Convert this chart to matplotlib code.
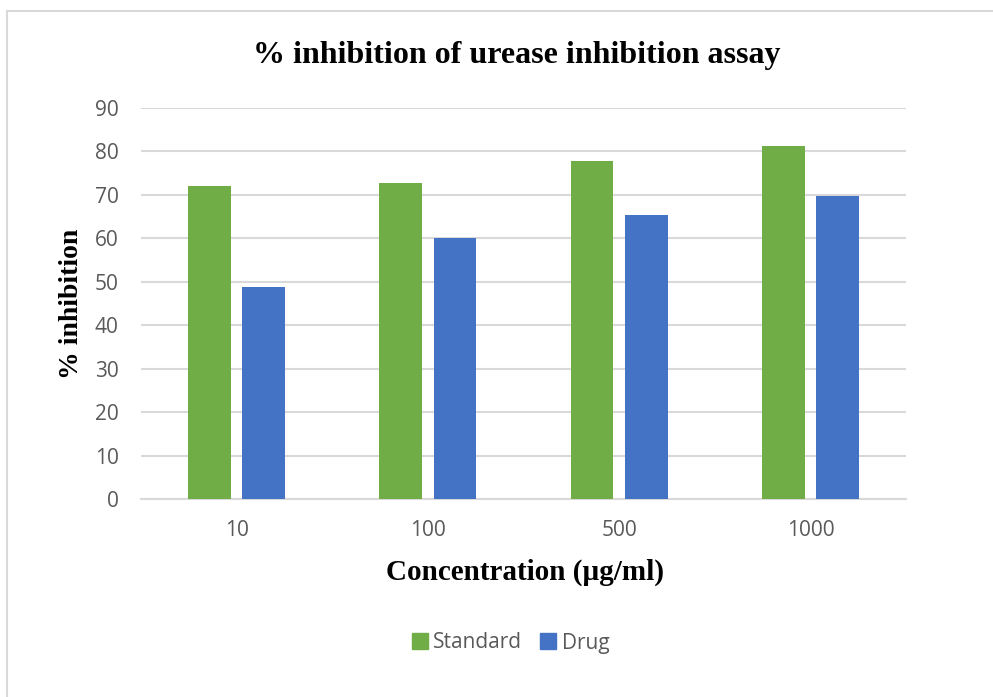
import matplotlib
matplotlib.use("Agg")
import matplotlib.pyplot as plt
import numpy as np
from matplotlib.lines import Line2D

concentrations = ["10", "100", "500", "1000"]
standard = [72.1, 72.7, 77.8, 81.2]
drug = [48.8, 60.0, 65.3, 69.7]
yticks = [0, 10, 20, 30, 40, 50, 60, 70, 80, 90]

green = "#70AD47"
blue = "#4472C4"
grid_c = "#D9D9D9"
tick_c = "#595959"

fig = plt.figure(figsize=(9.93, 6.97), dpi=100)
ax = fig.add_axes([141 / 993, 1 - 499 / 697, (906 - 141) / 993, (499 - 108) / 697])

x = np.arange(len(concentrations))
w = 0.224
off = 0.142
ax.bar(x - off, standard, width=w, color=green, zorder=3, label="Standard")
ax.bar(x + off, drug, width=w, color=blue, zorder=3, label="Drug")

ax.set_xlim(-0.5, len(concentrations) - 0.5)
ax.set_ylim(0, 90)
ax.set_yticks(yticks)
ax.set_xticks(x)
ax.set_xticklabels(concentrations)
ax.yaxis.grid(True, color=grid_c, linewidth=1.5, zorder=0)
ax.set_axisbelow(True)
for s in ["top", "right", "left"]:
    ax.spines[s].set_visible(False)
ax.spines["bottom"].set_color(grid_c)
ax.spines["bottom"].set_linewidth(1.5)
ax.tick_params(axis="both", length=0, colors=tick_c, labelsize=15)
ax.tick_params(axis="y", pad=16)
ax.tick_params(axis="x", pad=15)
for lbl in ax.get_xticklabels() + ax.get_yticklabels():
    lbl.set_fontfamily("Open Sans")

serif = "Liberation Serif"
fig.text(517 / 993, 1 - 55 / 697, "% inhibition of urease inhibition assay",
         ha="center", va="center", fontsize=23, fontweight="bold", family=serif)
fig.text(525 / 993, 1 - 572 / 697, "Concentration (µg/ml)",
         ha="center", va="center", fontsize=21, fontweight="bold", family=serif)
fig.text(72 / 993, 1 - 304 / 697, "% inhibition", rotation=90,
         ha="center", va="center", fontsize=20, fontweight="bold", family=serif)

handles = [Line2D([], [], marker="s", linestyle="none", markersize=12,
                  markerfacecolor=green, markeredgecolor=green),
           Line2D([], [], marker="s", linestyle="none", markersize=12,
                  markerfacecolor=blue, markeredgecolor=blue)]
leg = fig.legend(handles, ["Standard", "Drug"], loc="center",
                 bbox_to_anchor=(511 / 993, 1 - 643 / 697), ncol=2, frameon=False,
                 handlelength=0.7, handletextpad=0.3, columnspacing=0.9,
                 prop={"family": "Open Sans", "size": 15})
for t in leg.get_texts():
    t.set_color(tick_c)

# chart frame
fig.add_artist(Line2D([7 / 993, 1], [1 - 11 / 697, 1 - 11 / 697], color=grid_c, linewidth=1.5))
fig.add_artist(Line2D([7 / 993, 7 / 993], [0, 1 - 11 / 697], color=grid_c, linewidth=1.5))

fig.savefig("out.png", dpi=100)
